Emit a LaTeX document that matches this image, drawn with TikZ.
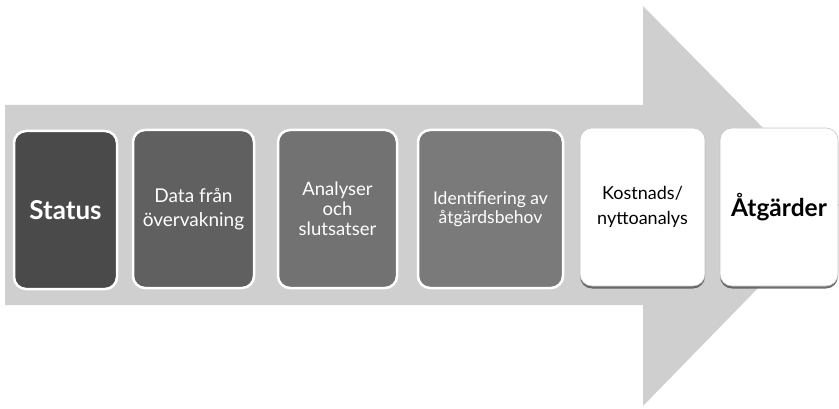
\documentclass[tikz,border=0pt]{standalone}
\usepackage{fontspec}
\setmainfont{Lato}
\usetikzlibrary{shadows}
\definecolor{arrowgray}{HTML}{CFCFCF}
\definecolor{boxA}{HTML}{4A4A4A}
\definecolor{boxB}{HTML}{606060}
\definecolor{boxC}{HTML}{727272}
\definecolor{boxD}{HTML}{7A7A7A}
\tikzset{
  stepbox/.style={rectangle, rounded corners=12pt, minimum height=158pt,
    align=center, inner sep=1pt, line width=2.5pt, draw=white, text=white,
    font=\fontsize{19}{24}\selectfont},
  whitebox/.style={rectangle, rounded corners=12pt, minimum height=158pt,
    align=center, inner sep=1pt, fill=white, draw=gray!45, line width=0.6pt,
    text=black, font=\fontsize{18}{25}\selectfont,
    drop shadow={shadow xshift=0pt, shadow yshift=-2.5pt, fill=black!70, opacity=0.8}},
}
\begin{document}
\begin{tikzpicture}[x=1pt,y=-1pt]
\useasboundingbox (0,0) rectangle (839,409);
\clip (0,0) rectangle (839,409);
% big arrow
\fill[arrowgray] (5,105) -- (643,105) -- (643,6) -- (839,205) -- (643,406) -- (643,305) -- (5,305) -- cycle;
% boxes
\node[stepbox, fill=boxA, minimum width=103pt, font=\fontsize{26}{30}\selectfont\bfseries] (b1) at (65.5,210) {Status};
\node[stepbox, fill=boxB, minimum width=121pt] (b2) at (193.5,209) {Data från\\övervakning};
\node[stepbox, fill=boxC, minimum width=119pt, font=\fontsize{18.5}{20}\selectfont] (b3) at (337.5,209) {Analyser\\och\\slutsatser};
\node[stepbox, fill=boxD, minimum width=145pt, font=\fontsize{17.5}{19}\selectfont] (b4) at (490.5,209) {Identifiering av\\åtgärdsbehov};
\node[whitebox, minimum width=125pt] (b5) at (642.5,207) {\raisebox{6pt}{\begin{tabular}{@{}c@{}}Kostnads/\\nyttoanalys\end{tabular}}};
\node[whitebox, minimum width=118pt, font=\fontsize{24.5}{28}\selectfont\bfseries] (b6) at (779,207) {Åtgärder};
\end{tikzpicture}
\end{document}
